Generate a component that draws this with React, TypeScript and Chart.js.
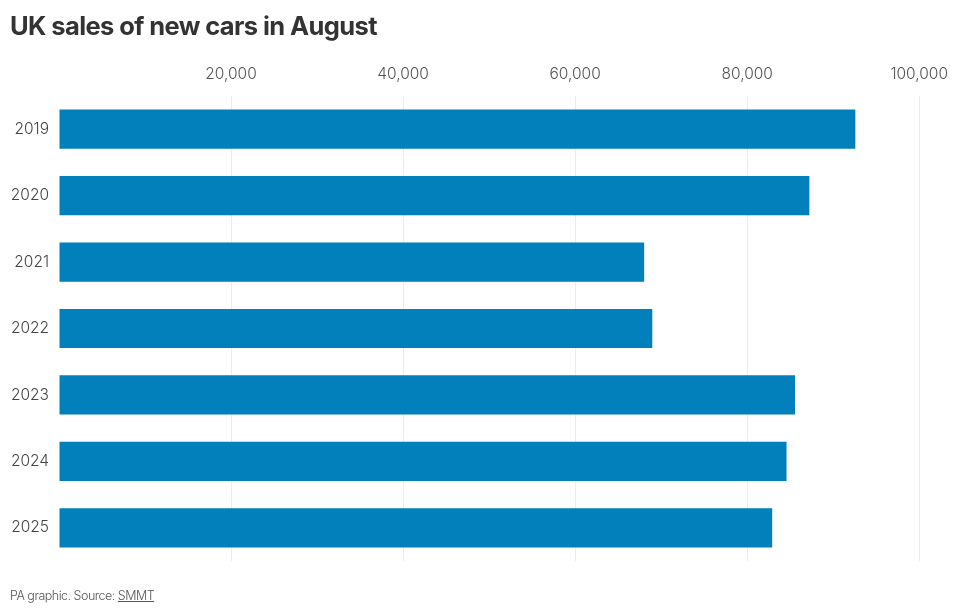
import { useEffect, useRef } from "react";
import { Chart, registerables } from "chart.js";
Chart.register(...registerables);

const years = ["2019", "2020", "2021", "2022", "2023", "2024", "2025"];
const sales = [92573, 87226, 68025, 68970, 85563, 84575, 82908];
const xTicks = [0, 20000, 40000, 60000, 80000, 100000];

const FONT = "Inter, 'Noto Sans', sans-serif";

export default function App() {
  const canvasRef = useRef<HTMLCanvasElement>(null);

  useEffect(() => {
    document.body.style.margin = "0";
    if (!canvasRef.current) return;
    const ctx = canvasRef.current.getContext("2d");
    if (!ctx) return;

    const chart = new Chart(ctx, {
      type: "bar",
      data: {
        labels: years,
        datasets: [
          {
            label: "New cars",
            data: sales,
            backgroundColor: "#0180bb",
            borderWidth: 0,
            barPercentage: 0.59,
            categoryPercentage: 1,
          },
        ],
      },
      options: {
        indexAxis: "y",
        animation: false,
        responsive: false,
        maintainAspectRatio: false,
        layout: { padding: { top: 0, left: 0, right: 40, bottom: 50 } },
        plugins: { legend: { display: false }, tooltip: { enabled: false } },
        scales: {
          x: {
            position: "top",
            min: 0,
            max: 100000,
            afterBuildTicks: (scale) => {
              scale.ticks = xTicks.map((v) => ({ value: v }));
            },
            afterFit: (scale) => {
              scale.height = 96;
            },
            border: { display: false },
            grid: {
              drawTicks: false,
              color: (c) => (c.tick && c.tick.value === 0 ? "rgba(0,0,0,0)" : "#ececec"),
            },
            ticks: {
              padding: 12,
              color: "#555",
              font: { family: FONT, size: 15.5, weight: 300 },
              callback: (v) => (Number(v) === 0 ? "" : Number(v).toLocaleString("en-GB")),
            },
          },
          y: {
            afterFit: (scale) => {
              scale.width = 59;
            },
            border: { display: false },
            grid: { display: false, drawTicks: false },
            ticks: {
              padding: 10,
              color: "#444",
              font: { family: FONT, size: 15.5, weight: 300 },
            },
          },
        },
      },
    });

    return () => chart.destroy();
  }, []);

  return (
    <div style={{ position: "relative", width: 960, height: 611, background: "#fff", fontFamily: FONT }}>
      <canvas ref={canvasRef} width={960} height={611} style={{ position: "absolute", left: 0, top: 0 }} />
      <div
        style={{
          position: "absolute",
          left: 10,
          top: 10,
          fontSize: 25.5,
          fontWeight: 700,
          color: "#333",
          letterSpacing: "-0.6px",
        }}
      >
        UK sales of new cars in August
      </div>
      <div
        style={{
          position: "absolute",
          left: 10,
          top: 588,
          fontSize: 12.5,
          fontWeight: 300,
          color: "#555",
          letterSpacing: "-0.5px",
        }}
      >
        PA graphic. Source: <span style={{ textDecoration: "underline" }}>SMMT</span>
      </div>
    </div>
  );
}
